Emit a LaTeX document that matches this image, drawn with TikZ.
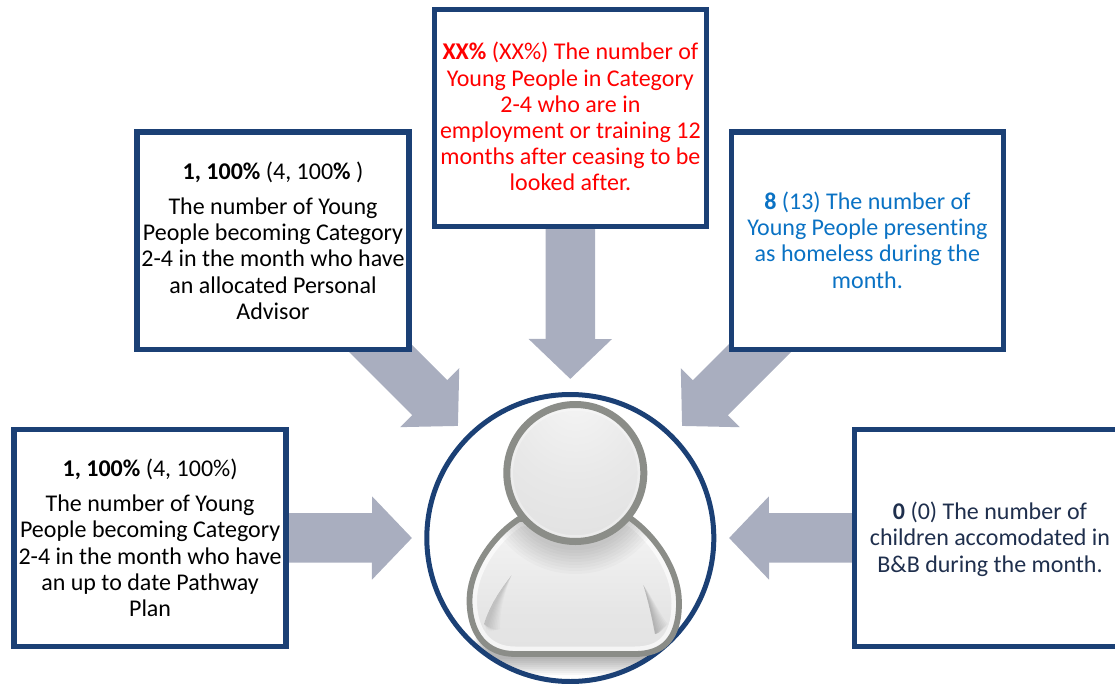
\documentclass[tikz,border=0pt]{standalone}
\usepackage{fontspec}
\setmainfont{Carlito}[Ligatures=NoCommon]
\usetikzlibrary{arrows.meta,backgrounds}
\definecolor{navy}{HTML}{1B4075}
\definecolor{flow}{HTML}{A9AEBF}
\definecolor{rim}{HTML}{8B8D88}
\definecolor{deepnavy}{HTML}{1F2F4D}
\definecolor{sky}{HTML}{0A72C4}
\pgfdeclareradialshading{headball}{\pgfpoint{0bp}{29bp}}{%
  color(0bp)=(white!96!black);color(25bp)=(white!91!black);color(55bp)=(white!87!black);color(80bp)=(white!84!black);color(100bp)=(white!84!black)}
\pgfdeclareverticalshading{bodyfill}{100bp}{%
  color(0bp)=(white!87!black);color(40bp)=(white!90!black);color(75bp)=(white!96!black);color(100bp)=(white!96!black)}
\newcommand{\bodypath}{(519,519) .. controls (490,538) and (469.5,572) .. (469.5,600) .. controls (469.5,635) and (487,654) .. (515,654) -- (635,654) .. controls (662,654) and (679,640) .. (679,603) .. controls (679,572) and (658,538) .. (630,518) -- cycle}
\tikzset{
  infobox/.style={draw=navy,line width=5.3pt,fill=white,inner sep=0pt,outer sep=0pt,rectangle,anchor=north west},
  flowarrow/.style={draw=flow,line width=49.5pt,-{Triangle[length=40pt,width=81pt,fill=flow]}},
  ring/.style={circle,draw=navy,line width=5pt,fill=white,minimum size=287pt,inner sep=0pt,outer sep=0pt},
}
\newcommand{\boxtext}[4]{\parbox[c][#2pt][t]{#1pt}{\centering\fontsize{24pt}{26.2pt}\selectfont\vspace*{#3pt}#4\par}}
\begin{document}
\begin{tikzpicture}[x=1pt,y=-1pt]
\useasboundingbox (0,0) rectangle (1115,684);
\coordinate (tipL) at (412,538);
\coordinate (tipTL) at (458,426);
\coordinate (tipT) at (570.3,379);
\coordinate (tipTR) at (682,426);
\coordinate (tipR) at (729,538);
\node[infobox] (lbox) at (14.1,429.2) {\boxtext{272}{217.3}{30}{\textbf{1, 100\%} (4, 100\%)\\[8.8pt]The number of Young\\People becoming Category\\2-4 in the month who have\\an up to date Pathway\\Plan}};
\node[infobox] (tlbox) at (137,132) {\boxtext{272}{217.3}{30}{\textbf{1, 100\%} (4, 100\textbf{\%} )\\[8.8pt]The number of Young\\People becoming Category\\2-4 in the month who have\\an allocated Personal\\Advisor}};
\node[infobox,text=red] (tbox) at (434.4,9.4) {\boxtext{272}{217.3}{33}{\textbf{XX\%} (XX\%) The number of\\Young People in Category\\2-4 who are in\\employment or training 12\\months after ceasing to be\\looked after.}};
\node[infobox,text=sky] (trbox) at (731.4,132) {\boxtext{272}{217.3}{60}{\textbf{8} (13) The number of\\Young People presenting\\as homeless during the\\month.}};
\node[infobox,text=deepnavy] (rbox) at (854.7,429.2) {\boxtext{270.6}{217.3}{73}{\textbf{0} (0) The number of\\children accomodated in\\B\&B during the month.}};
\begin{scope}[on background layer]
\draw[flowarrow] (lbox.center) -- (tipL);
\draw[flowarrow] (tlbox.center) -- (tipTL);
\draw[flowarrow] (tbox.center) -- (tipT);
\draw[flowarrow] (trbox.center) -- (tipTR);
\draw[flowarrow] (rbox.center) -- (tipR);
\end{scope}
\node[ring] (user) at (570.3,538) {};
% soft shadow beneath the figure
\begin{scope}
\clip (570.3,538) circle (141);
\foreach \w in {2,4,...,18}{
  \fill[black,opacity=.035,rounded corners=14pt] ({488-\w*.8},630) rectangle ({660+\w*.8},{657+\w});
}
\end{scope}
% body
\shade[shading=bodyfill] \bodypath;
\begin{scope}
\clip \bodypath;
\draw[white,opacity=.65,line width=15pt] \bodypath;
% folds
\foreach \s in {2,4,...,16}{
  \fill[black,opacity=.02] (511.7,575) .. controls (500,590) and (490,605) .. (484,624) .. controls ({486+\s*.5},{630}) .. ({484+\s},{634-\s*.3}) .. controls ({490+\s*.6},610) and ({500+\s*.3},592) .. (511.7,575) -- cycle;
  \fill[black,opacity=.026] (643.3,585) .. controls (648,600) and (652,618) .. (655,634) .. controls ({656+\s*.3},{635-\s*.2}) .. ({655+\s*.8},{632-\s*.5}) .. controls ({652+\s*.5},615) and ({648+\s*.3},598) .. (643.3,585) -- cycle;
}
% head shadow
\foreach \r in {93,90,...,68}{
  \fill[black,opacity=.02] (575.3,481) circle (\r);
}
\end{scope}
\draw[rim,line width=5.8pt,line join=round] \bodypath;
% head
\shade[shading=headball] (575.3,473) circle (68.5);
\draw[white,opacity=.3,line width=2.5pt] (575.3,473) circle (63.5);
\draw[rim,line width=7pt] (575.3,473) circle (68.5);
\end{tikzpicture}
\end{document}
